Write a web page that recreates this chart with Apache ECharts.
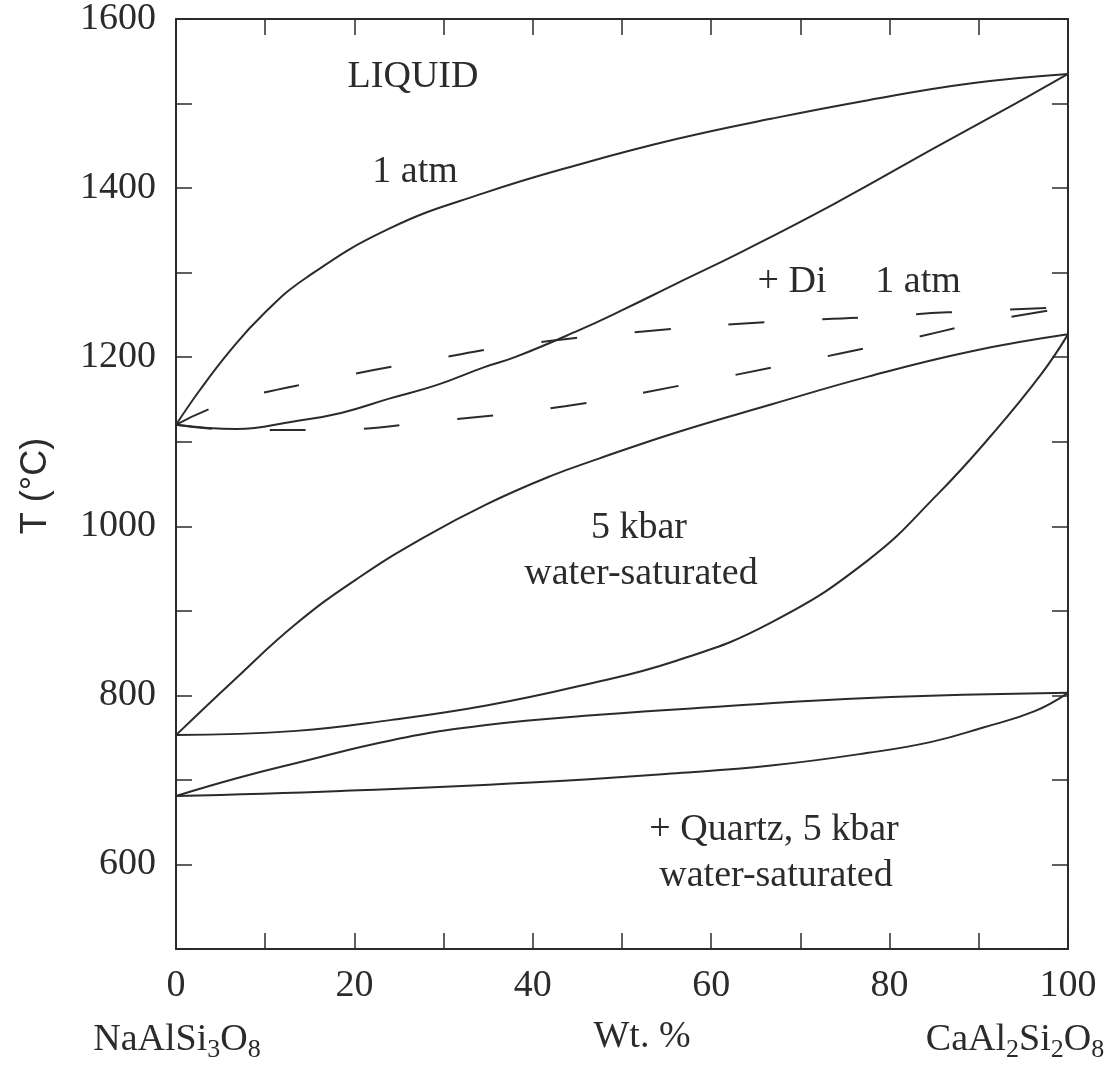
<!DOCTYPE html>
<html>
<head>
<meta charset="utf-8">
<script src="https://cdn.jsdelivr.net/npm/echarts@6/dist/echarts.min.js"></script>
<style>
html,body{margin:0;padding:0;background:#fff}
#show{width:1104px;height:1066px}
</style>
</head>
<body>
<div id="show"></div>
<script>
// Ab-An phase diagram: values (Wt. % An, T in °C)
var atmLiqX = [0, 2.6, 6.1, 9.7, 14.6, 23.9, 34.5, 45.2, 56.1, 66.7, 77.6, 89.2, 100];
var atmLiqT = [1120, 1160, 1208, 1250, 1294, 1352, 1394, 1428, 1458, 1482, 1504, 1524, 1535];

var atmSolX = [0, 6.8, 13.2, 18.5, 23.9, 29.2, 34.5, 38.0, 45.2, 49.9, 56.1, 63.3, 73.9, 85.3, 94.1, 100];
var atmSolT = [1120, 1115, 1124, 1134, 1151, 1167, 1188, 1200, 1232, 1255, 1287, 1324, 1382, 1449, 1500, 1535];

// + Di, 1 atm (dashed)
var diLiqX = [0, 5.7, 16.6, 29.1, 38.7, 53.0, 66.9, 77.2, 86.5, 100];
var diLiqT = [1120, 1146, 1173, 1198, 1215, 1231, 1242, 1247, 1253, 1259];

var diSolX = [0, 6.8, 16.4, 29.7, 43.6, 56.8, 68.3, 80.6, 90.8, 100];
var diSolT = [1120, 1114, 1114, 1125, 1142, 1167, 1191, 1218, 1242, 1259];

// 5 kbar water-saturated
var wetLiqX = [0, 6.5, 13.5, 20.6, 27.8, 34.8, 41.9, 47.4, 56.1, 66.7, 77.6, 89.2, 100];
var wetLiqT = [753, 818, 885, 940, 987, 1026, 1059, 1080, 1111, 1144, 1177, 1207, 1227];

var wetSolX = [0, 13.5, 24.2, 34.8, 45.2, 56.1, 66.7, 77.6, 85.4, 91.6, 97.0, 100];
var wetSolT = [753, 758, 771, 788, 811, 841, 886, 960, 1038, 1110, 1180, 1227];

// + Quartz, 5 kbar water-saturated
var qzLiqX = [0, 6.8, 13.5, 24.2, 34.8, 47.4, 61.5, 77.6, 100];
var qzLiqT = [681, 702, 720, 747, 765, 777, 787, 797, 803];

var qzSolX = [0, 18.5, 39.8, 56.1, 66.7, 77.6, 84.7, 90.5, 96.2, 100];
var qzSolT = [681, 687, 697, 708, 717, 732, 745, 762, 781, 803];

var serif = '"Liberation Serif", "Times New Roman", serif';
var ink = '#2b2b2b';

function pairs(xs, ts) {
    var out = [];
    for (var i = 0; i < xs.length; i++) {
        out.push([xs[i], ts[i]]);
    }
    return out;
}

function curve(name, xs, ts, dashed) {
    return {
        name: name,
        type: 'line',
        data: pairs(xs, ts),
        smooth: 0.45,
        showSymbol: false,
        silent: true,
        lineStyle: {color: ink, width: 2, type: dashed ? [36, 58] : 'solid'}
    };
}

function txt(text, cx, cy, size, font, rot) {
    return {
        type: 'text',
        x: cx, y: cy,
        rotation: rot || 0,
        style: {
            text: text,
            fontFamily: font || serif,
            fontSize: size || 38,
            fill: ink,
            align: 'center',
            verticalAlign: 'middle'
        },
        silent: true
    };
}

// chemical formula with subscripts, parts = [text, isSub]
function formula(parts, cx, cy) {
    var s = '';
    for (var i = 0; i < parts.length; i++) {
        s += '{' + (parts[i][1] ? 's' : 'n') + '|' + parts[i][0] + '}';
    }
    return {
        type: 'text',
        x: cx, y: cy,
        style: {
            text: s,
            align: 'center',
            verticalAlign: 'middle',
            fill: ink,
            rich: {
                n: {fontFamily: serif, fontSize: 38, fill: ink},
                s: {fontFamily: serif, fontSize: 26, fill: ink, padding: [20, 0, 0, 0]}
            }
        },
        silent: true
    };
}

var myChart = echarts.init(document.getElementById('show'), null, {renderer: 'canvas'});

var lineStyle = {show: true, onZero: false, lineStyle: {color: ink, width: 2}};
var tickStyle = {show: true, inside: true, length: 16, lineStyle: {color: ink, width: 1.5}};

var option = {
    backgroundColor: '#fff',
    animation: false,
    grid: {left: 176, top: 16, right: 36, bottom: 117},
    xAxis: [
        {
            type: 'value', position: 'bottom',
            min: 0, max: 100, interval: 10,
            axisLine: lineStyle,
            axisTick: tickStyle,
            splitLine: {show: false},
            axisLabel: {
                margin: 18,
                fontFamily: serif, fontSize: 38, color: ink,
                formatter: function (v) { return v % 20 === 0 ? String(v) : ''; }
            }
        },
        {
            type: 'value', position: 'top',
            min: 0, max: 100, interval: 10,
            axisLine: lineStyle,
            axisTick: tickStyle,
            splitLine: {show: false},
            axisLabel: {show: false}
        }
    ],
    yAxis: [
        {
            type: 'value', position: 'left',
            min: 500, max: 1600, interval: 100,
            axisLine: lineStyle,
            axisTick: tickStyle,
            splitLine: {show: false},
            axisLabel: {
                margin: 20,
                fontFamily: serif, fontSize: 38, color: ink,
                formatter: function (v) { return (v % 200 === 0 && v >= 600) ? String(v) : ''; }
            }
        },
        {
            type: 'value', position: 'right',
            min: 500, max: 1600, interval: 100,
            axisLine: lineStyle,
            axisTick: tickStyle,
            splitLine: {show: false},
            axisLabel: {show: false}
        }
    ],
    series: [
        curve('1 atm liquidus', atmLiqX, atmLiqT, false),
        curve('1 atm solidus', atmSolX, atmSolT, false),
        curve('+Di liquidus', diLiqX, diLiqT, true),
        curve('+Di solidus', diSolX, diSolT, true),
        curve('5 kbar liquidus', wetLiqX, wetLiqT, false),
        curve('5 kbar solidus', wetSolX, wetSolT, false),
        curve('+Qz liquidus', qzLiqX, qzLiqT, false),
        curve('+Qz solidus', qzSolX, qzSolT, false)
    ],
    graphic: [
        txt('LIQUID', 413, 77),
        txt('1 atm', 415, 172),
        txt('+ Di', 792, 282),
        txt('1 atm', 918, 282),
        txt('5 kbar', 639, 528),
        txt('water-saturated', 641, 574),
        txt('+ Quartz, 5 kbar', 774, 830),
        txt('water-saturated', 776, 876),
        txt('T (\u00B0C)', 36, 486, 36, '"Liberation Sans", Arial, sans-serif', Math.PI / 2),
        txt('Wt. %', 642, 1037),
        formula([['NaAlSi', 0], ['3', 1], ['O', 0], ['8', 1]], 177, 1040),
        formula([['CaAl', 0], ['2', 1], ['Si', 0], ['2', 1], ['O', 0], ['8', 1]], 1015, 1040)
    ]
};

myChart.setOption(option);
</script>
</body>
</html>
